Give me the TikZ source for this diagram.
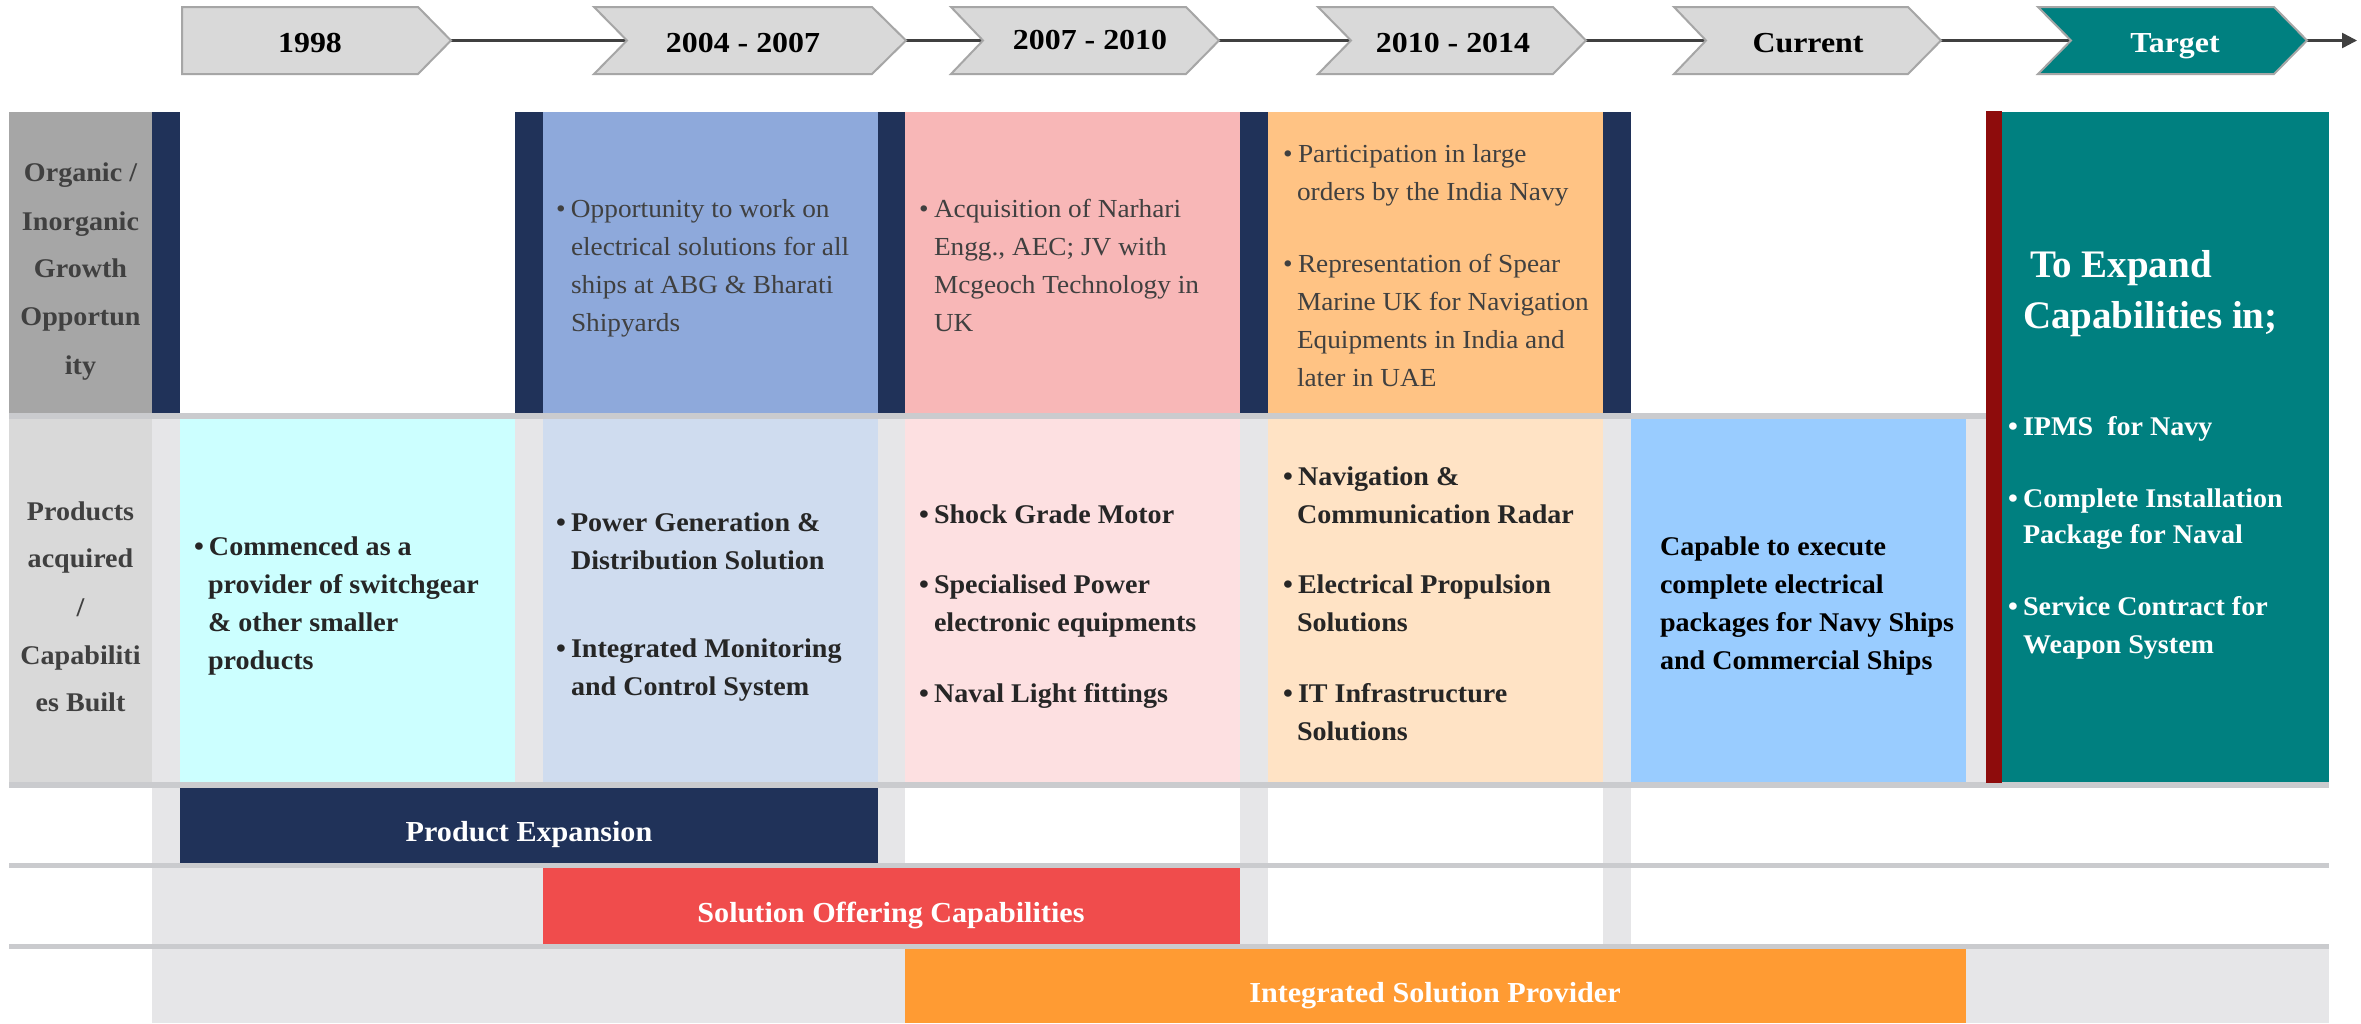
\documentclass[tikz,border=0pt]{standalone}
\usepackage{fontspec}
\setmainfont{Liberation Serif}
\newfontfamily\regf{Liberation Serif}[FakeStretch=1.05]
\newfontfamily\boldf{Liberation Serif}[FakeStretch=1.04]
\newfontfamily\chevf{Liberation Serif}[FakeStretch=1.1]
\usetikzlibrary{arrows.meta}
\definecolor{chevgray}{HTML}{D9D9D9}
\definecolor{chevedge}{HTML}{A6A6A6}
\definecolor{lineg}{HTML}{404040}
\definecolor{tealc}{HTML}{008080}
\definecolor{lab1}{HTML}{A6A6A6}
\definecolor{lab2}{HTML}{D9D9D9}
\definecolor{navy}{HTML}{203259}
\definecolor{blu}{HTML}{8EA9DB}
\definecolor{pnk}{HTML}{F8B7B7}
\definecolor{orng}{HTML}{FFC384}
\definecolor{dred}{HTML}{8E0C0C}
\definecolor{cyn}{HTML}{CCFFFF}
\definecolor{lblu}{HTML}{CFDCEF}
\definecolor{lpnk}{HTML}{FDE0E1}
\definecolor{lorng}{HTML}{FFE3C5}
\definecolor{sky}{HTML}{99CCFF}
\definecolor{gapg}{HTML}{E6E6E8}
\definecolor{sepg}{HTML}{CACBCE}
\definecolor{solred}{HTML}{F04C4C}
\definecolor{isporng}{HTML}{FF9B33}
\definecolor{txtg}{HTML}{404040}
\definecolor{txtd}{HTML}{262626}
\newcommand{\mybul}{\makebox[15bp][l]{\textbullet}}
\tikzset{
  lt/.style={anchor=base west, inner sep=0pt, outer sep=0pt},
  ct/.style={anchor=base, inner sep=0pt, outer sep=0pt},
  regtxt/.style={font=\regf\fontsize{26bp}{30bp}\selectfont, text=txtg},
  boldtxt/.style={font=\boldf\bfseries\fontsize{27bp}{30bp}\selectfont, text=txtd},
  labtxt/.style={font=\boldf\bfseries\fontsize{27bp}{30bp}\selectfont, text=txtg},
  whitetxt/.style={font=\boldf\bfseries\fontsize{27bp}{30bp}\selectfont, text=white},
  headtxt/.style={font=\normalfont\bfseries\fontsize{39bp}{44bp}\selectfont, text=white},
  bartxt/.style={font=\boldf\bfseries\fontsize{29bp}{32bp}\selectfont, text=white},
  chevtxt/.style={font=\chevf\bfseries\fontsize{29bp}{32bp}\selectfont, text=black},
  chev/.style={fill=chevgray, draw=chevedge, line width=2bp, line join=miter},
  tl/.style={draw=lineg, line width=2.5bp},
}
\begin{document}
\begin{tikzpicture}[x=1bp,y=-1bp]
\useasboundingbox (0,0) rectangle (2361,1023);
\fill[white] (0,0) rectangle (2361,1023);

% ---------- timeline ----------
\coordinate (t1) at (451,40.5);
\coordinate (n2) at (627,40.5);  \coordinate (t2) at (906,40.5);
\coordinate (n3) at (983,40.5);  \coordinate (t3) at (1219,40.5);
\coordinate (n4) at (1351,40.5); \coordinate (t4) at (1586,40.5);
\coordinate (n5) at (1706,40.5); \coordinate (t5) at (1941,40.5);
\coordinate (n6) at (2071,40.5); \coordinate (t6) at (2307,40.5);
\coordinate (tend) at (2357,40.5);
\draw[tl] (t1) -- (n2);
\draw[tl] (t2) -- (n3);
\draw[tl] (t3) -- (n4);
\draw[tl] (t4) -- (n5);
\draw[tl] (t5) -- (n6);
\draw[tl, -{Triangle[length=15bp,width=15bp]}] (t6) -- (tend);

\path[chev] (182,7) -- (418,7) -- (t1) -- (418,74) -- (182,74) -- cycle;
\path[chev] (594,7) -- (872,7) -- (t2) -- (872,74) -- (594,74) -- (n2) -- cycle;
\path[chev] (951,7) -- (1186,7) -- (t3) -- (1186,74) -- (951,74) -- (n3) -- cycle;
\path[chev] (1318,7) -- (1553,7) -- (t4) -- (1553,74) -- (1318,74) -- (n4) -- cycle;
\path[chev] (1674,7) -- (1908,7) -- (t5) -- (1908,74) -- (1674,74) -- (n5) -- cycle;
\path[chev, fill=tealc] (2038,7) -- (2274,7) -- (t6) -- (2274,74) -- (2038,74) -- (n6) -- cycle;

\node[ct, chevtxt] (ch1) at (310,52) {1998};
\node[ct, chevtxt] (ch2) at (743,52) {2004 - 2007};
\node[ct, chevtxt] (ch3) at (1090,49) {2007 - 2010};
\node[ct, chevtxt] (ch4) at (1453,52) {2010 - 2014};
\node[ct, chevtxt] (ch5) at (1808,52) {Current};
\node[ct, chevtxt, text=white] (ch6) at (2175,52) {Target};

% ---------- row 1 ----------
\fill[lab1] (9,112) rectangle (152,413);
\fill[navy] (152,112) rectangle (180,413);
\fill[navy] (515,112) rectangle (543,413);
\fill[blu]  (543,112) rectangle (878,413);
\fill[navy] (878,112) rectangle (905,413);
\fill[pnk]  (905,112) rectangle (1240,413);
\fill[navy] (1240,112) rectangle (1268,413);
\fill[orng] (1268,112) rectangle (1603,413);
\fill[navy] (1603,112) rectangle (1631,413);

% ---------- row 2 ----------
\fill[lab2] (9,419) rectangle (152,782);
\fill[gapg] (152,419) rectangle (180,782);
\fill[cyn]  (180,419) rectangle (515,782);
\fill[gapg] (515,419) rectangle (543,782);
\fill[lblu] (543,419) rectangle (878,782);
\fill[gapg] (878,419) rectangle (905,782);
\fill[lpnk] (905,419) rectangle (1240,782);
\fill[gapg] (1240,419) rectangle (1268,782);
\fill[lorng] (1268,419) rectangle (1603,782);
\fill[gapg] (1603,419) rectangle (1631,782);
\fill[sky]  (1631,419) rectangle (1966,782);
\fill[gapg] (1966,419) rectangle (1986,782);

% ---------- target column ----------
\fill[tealc] (2002,112) rectangle (2329,782);

% ---------- row 3 ----------
\fill[gapg] (152,788) rectangle (180,863);
\fill[navy] (180,788) rectangle (878,863);
\fill[gapg] (878,788) rectangle (905,863);
\fill[gapg] (1240,788) rectangle (1268,863);
\fill[gapg] (1603,788) rectangle (1631,863);
% ---------- row 4 ----------
\fill[gapg] (152,868) rectangle (543,944);
\fill[solred] (543,868) rectangle (1240,944);
\fill[gapg] (1240,868) rectangle (1268,944);
\fill[gapg] (1603,868) rectangle (1631,944);
% ---------- row 5 ----------
\fill[gapg] (152,949) rectangle (905,1023);
\fill[isporng] (905,949) rectangle (1966,1023);
\fill[gapg] (1966,949) rectangle (2329,1023);

% ---------- separators ----------
\fill[sepg] (9,413) rectangle (1986,419);
\fill[sepg] (9,782) rectangle (2329,788);
\fill[sepg] (9,863) rectangle (2329,868);
\fill[sepg] (9,944) rectangle (2329,949);
\fill[dred] (1986,111) rectangle (2002,783);

% ---------- labels ----------
\node[ct, labtxt] (l1a) at (80.5,181) {Organic /};
\node[ct, labtxt] (l1b) at (80.5,230) {Inorganic};
\node[ct, labtxt] (l1c) at (80.5,277) {Growth};
\node[ct, labtxt] (l1d) at (80.5,325) {Opportun};
\node[ct, labtxt] (l1e) at (80.5,374) {ity};
\node[ct, labtxt] (l2a) at (80.5,520) {Products};
\node[ct, labtxt] (l2b) at (80.5,567) {acquired};
\node[ct, labtxt] (l2c) at (80.5,616) {/};
\node[ct, labtxt] (l2d) at (80.5,664) {Capabiliti};
\node[ct, labtxt] (l2e) at (80.5,711) {es Built};

% ---------- row 1 texts ----------
\node[lt, regtxt] (b1a) at (556,217) {\mybul Opportunity to work on};
\node[lt, regtxt] (b1b) at (571,255) {electrical solutions for all};
\node[lt, regtxt] (b1c) at (571,293) {ships at ABG \& Bharati};
\node[lt, regtxt] (b1d) at (571,331) {Shipyards};

\node[lt, regtxt] (p1a) at (919,217) {\mybul Acquisition of Narhari};
\node[lt, regtxt] (p1b) at (934,255) {Engg., AEC; JV with};
\node[lt, regtxt] (p1c) at (934,293) {Mcgeoch Technology in};
\node[lt, regtxt] (p1d) at (934,331) {UK};

\node[lt, regtxt] (o1a) at (1283,162) {\mybul Participation in large};
\node[lt, regtxt] (o1b) at (1297,200) {orders by the India Navy};
\node[lt, regtxt] (o1c) at (1283,272) {\mybul Representation of Spear};
\node[lt, regtxt] (o1d) at (1297,310) {Marine UK for Navigation};
\node[lt, regtxt] (o1e) at (1297,348) {Equipments in India and};
\node[lt, regtxt] (o1f) at (1297,386) {later in UAE};

% ---------- target texts ----------
\node[lt, headtxt] (th1) at (2030,277) {To Expand};
\node[lt, headtxt] (th2) at (2023,328) {Capabilities in;};
\node[lt, whitetxt] (tb1) at (2008,435) {\mybul IPMS\ \ for Navy};
\node[lt, whitetxt] (tb2) at (2008,507) {\mybul Complete Installation};
\node[lt, whitetxt] (tb3) at (2023,543) {Package for Naval};
\node[lt, whitetxt] (tb4) at (2008,615) {\mybul Service Contract for};
\node[lt, whitetxt] (tb5) at (2023,653) {Weapon System};

% ---------- row 2 texts ----------
\node[lt, boldtxt] (c2a) at (194,555) {\mybul Commenced as a};
\node[lt, boldtxt] (c2b) at (208,593) {provider of switchgear};
\node[lt, boldtxt] (c2c) at (208,631) {\& other smaller};
\node[lt, boldtxt] (c2d) at (208,669) {products};

\node[lt, boldtxt] (lb2a) at (556,531) {\mybul Power Generation \&};
\node[lt, boldtxt] (lb2b) at (571,569) {Distribution Solution};
\node[lt, boldtxt] (lb2c) at (556,657) {\mybul Integrated Monitoring};
\node[lt, boldtxt] (lb2d) at (571,695) {and Control System};

\node[lt, boldtxt] (p2a) at (919,523) {\mybul Shock Grade Motor};
\node[lt, boldtxt] (p2b) at (919,593) {\mybul Specialised Power};
\node[lt, boldtxt] (p2c) at (934,631) {electronic equipments};
\node[lt, boldtxt] (p2d) at (919,702) {\mybul Naval Light fittings};

\node[lt, boldtxt] (o2a) at (1283,485) {\mybul Navigation \&};
\node[lt, boldtxt] (o2b) at (1297,523) {Communication Radar};
\node[lt, boldtxt] (o2c) at (1283,593) {\mybul Electrical Propulsion};
\node[lt, boldtxt] (o2d) at (1297,631) {Solutions};
\node[lt, boldtxt] (o2e) at (1283,702) {\mybul IT Infrastructure};
\node[lt, boldtxt] (o2f) at (1297,740) {Solutions};

\node[lt, boldtxt, text=black] (s2a) at (1660,555) {Capable to execute};
\node[lt, boldtxt, text=black] (s2b) at (1660,593) {complete electrical};
\node[lt, boldtxt, text=black] (s2c) at (1660,631) {packages for Navy Ships};
\node[lt, boldtxt, text=black] (s2d) at (1660,669) {and Commercial Ships};

% ---------- bar texts ----------
\node[ct, bartxt] (pe)  at (529,841) {Product Expansion};
\node[ct, bartxt] (so)  at (891,922) {Solution Offering Capabilities};
\node[ct, bartxt] (isp) at (1435,1002) {Integrated Solution Provider};
\end{tikzpicture}
\end{document}
